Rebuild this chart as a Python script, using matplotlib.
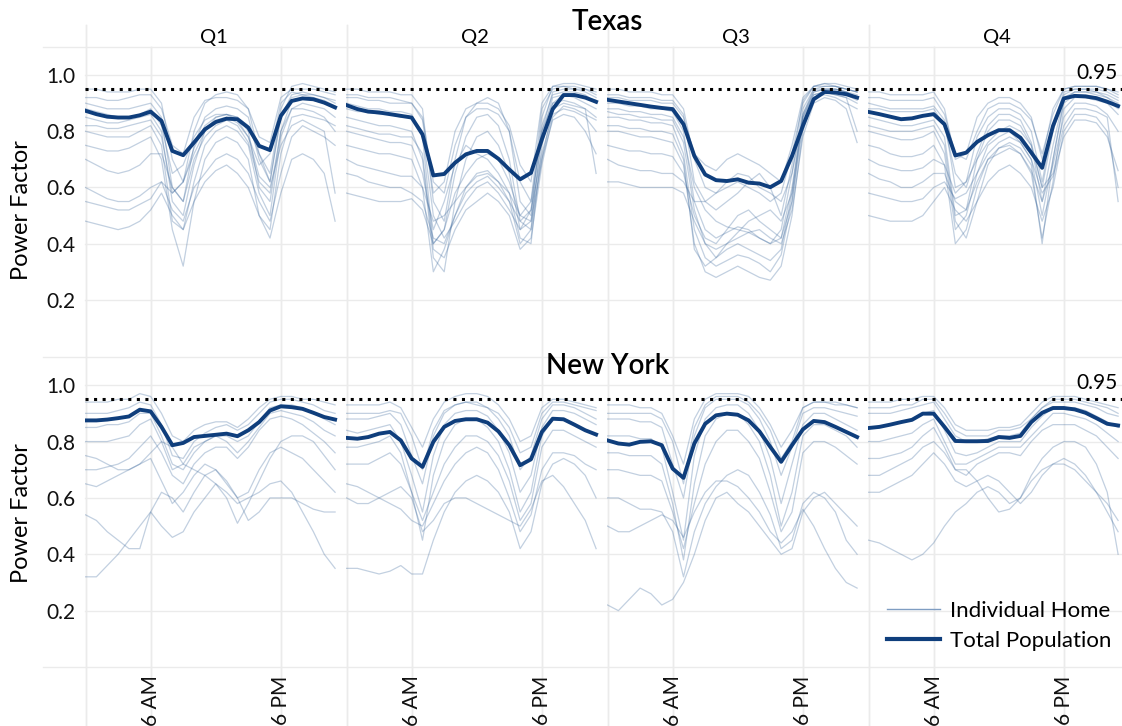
import numpy as np
import matplotlib
matplotlib.use("Agg")
import matplotlib.pyplot as plt
from matplotlib import transforms
from matplotlib.lines import Line2D

plt.rcParams['font.family'] = ['Lato', 'DejaVu Sans']

hours = np.arange(24)                     # hour of day, 0..23
quarters = ["Q1", "Q2", "Q3", "Q4"]
tick_hours = [6, 18]
tick_labels = ["6 AM", "6 PM"]
threshold = 0.95

# ---- Texas: total population power factor (hourly) ----
tx_q1_total = [0.873, 0.861, 0.852, 0.849, 0.849, 0.857, 0.870, 0.837, 0.730, 0.715, 0.760, 0.807,
               0.833, 0.845, 0.843, 0.813, 0.748, 0.733, 0.855, 0.908, 0.917, 0.914, 0.902, 0.885]
tx_q2_total = [0.893, 0.879, 0.870, 0.867, 0.861, 0.855, 0.849, 0.789, 0.643, 0.648, 0.688, 0.718,
               0.730, 0.730, 0.702, 0.664, 0.629, 0.652, 0.771, 0.879, 0.929, 0.929, 0.920, 0.905]
tx_q3_total = [0.912, 0.906, 0.900, 0.894, 0.888, 0.883, 0.879, 0.825, 0.712, 0.646, 0.626, 0.623,
               0.629, 0.617, 0.614, 0.601, 0.623, 0.712, 0.819, 0.914, 0.940, 0.938, 0.932, 0.920]
tx_q4_total = [0.869, 0.861, 0.852, 0.843, 0.846, 0.855, 0.861, 0.825, 0.714, 0.724, 0.762, 0.786,
               0.804, 0.804, 0.777, 0.724, 0.670, 0.819, 0.917, 0.926, 0.924, 0.918, 0.905, 0.890]

# ---- New York: total population power factor (hourly) ----
ny_q1_total = [0.875, 0.875, 0.878, 0.883, 0.889, 0.913, 0.907, 0.852, 0.787, 0.795, 0.816, 0.820,
               0.824, 0.828, 0.819, 0.840, 0.869, 0.910, 0.925, 0.922, 0.916, 0.902, 0.887, 0.878]
ny_q2_total = [0.813, 0.810, 0.816, 0.828, 0.834, 0.804, 0.740, 0.710, 0.799, 0.852, 0.873, 0.879,
               0.879, 0.867, 0.836, 0.787, 0.716, 0.737, 0.834, 0.881, 0.879, 0.860, 0.840, 0.825]
ny_q3_total = [0.804, 0.793, 0.789, 0.799, 0.801, 0.787, 0.704, 0.671, 0.793, 0.863, 0.893, 0.899,
               0.895, 0.875, 0.836, 0.781, 0.728, 0.787, 0.843, 0.873, 0.869, 0.852, 0.834, 0.816]
ny_q4_total = [0.848, 0.852, 0.860, 0.869, 0.877, 0.899, 0.899, 0.852, 0.802, 0.801, 0.801, 0.802,
               0.816, 0.813, 0.820, 0.869, 0.902, 0.919, 0.919, 0.914, 0.902, 0.883, 0.863, 0.857]

# ---- individual homes (percent, hourly) ----
tx_q1_homes = [
    [95, 95, 94, 94, 94, 95, 95, 90, 70, 62, 80, 90, 93, 94, 93, 88, 72, 65, 88, 96, 97, 96, 95, 94],
    [90, 89, 88, 88, 88, 89, 90, 85, 60, 55, 75, 85, 88, 89, 88, 85, 70, 62, 85, 93, 94, 93, 92, 90],
    [85, 84, 83, 83, 84, 85, 86, 80, 55, 50, 68, 80, 85, 86, 85, 80, 60, 55, 80, 91, 92, 91, 90, 88],
    [88, 87, 86, 85, 85, 86, 88, 82, 65, 68, 78, 84, 86, 86, 84, 78, 68, 72, 90, 94, 93, 93, 92, 91],
    [80, 79, 78, 78, 78, 80, 82, 75, 48, 45, 62, 75, 80, 82, 80, 75, 58, 50, 78, 88, 90, 89, 88, 85],
    [75, 74, 73, 73, 74, 76, 78, 70, 45, 32, 55, 70, 76, 78, 76, 70, 50, 45, 72, 85, 86, 85, 84, 82],
    [60, 58, 56, 55, 55, 57, 60, 62, 52, 48, 60, 65, 70, 72, 70, 65, 55, 48, 65, 78, 82, 80, 78, 75],
    [48, 47, 46, 45, 46, 48, 52, 58, 50, 45, 55, 62, 66, 68, 65, 60, 50, 42, 58, 70, 72, 70, 65, 48],
    [92, 92, 91, 91, 92, 93, 93, 88, 75, 72, 85, 91, 92, 92, 91, 88, 78, 76, 92, 95, 95, 95, 94, 93],
    [70, 68, 66, 65, 66, 68, 72, 72, 60, 55, 70, 78, 82, 84, 82, 76, 62, 58, 80, 88, 88, 87, 85, 80],
    [55, 54, 53, 52, 52, 54, 56, 62, 58, 62, 72, 80, 84, 85, 83, 78, 64, 60, 75, 82, 84, 82, 80, 58],
    [82, 82, 81, 81, 82, 83, 84, 78, 58, 62, 74, 82, 85, 86, 85, 82, 72, 62, 86, 92, 93, 92, 91, 89],
]
tx_q2_homes = [
    [95, 95, 94, 94, 94, 93, 93, 88, 55, 48, 70, 85, 90, 92, 90, 80, 55, 50, 85, 96, 97, 97, 96, 95],
    [90, 89, 88, 88, 87, 87, 86, 78, 40, 45, 65, 78, 85, 86, 82, 70, 48, 45, 80, 94, 95, 95, 94, 92],
    [85, 84, 83, 82, 82, 81, 80, 70, 35, 30, 55, 70, 78, 80, 75, 65, 45, 52, 82, 93, 94, 94, 93, 90],
    [80, 79, 78, 77, 76, 76, 75, 65, 45, 55, 68, 75, 72, 70, 65, 58, 42, 40, 75, 90, 93, 92, 90, 88],
    [88, 87, 87, 86, 86, 85, 85, 80, 50, 42, 48, 55, 60, 62, 58, 52, 45, 48, 78, 92, 93, 93, 92, 91],
    [75, 74, 73, 72, 72, 71, 70, 60, 30, 38, 50, 60, 65, 66, 62, 55, 40, 45, 70, 88, 90, 89, 88, 85],
    [65, 64, 62, 61, 60, 60, 58, 55, 42, 40, 50, 58, 62, 64, 60, 55, 48, 52, 72, 86, 88, 87, 85, 80],
    [92, 92, 91, 91, 90, 90, 90, 85, 62, 58, 75, 85, 88, 88, 86, 80, 62, 55, 88, 95, 96, 96, 95, 94],
    [70, 68, 67, 66, 65, 64, 64, 60, 48, 50, 55, 60, 64, 65, 62, 58, 50, 55, 80, 90, 91, 90, 88, 65],
    [82, 81, 80, 79, 79, 78, 78, 72, 38, 35, 45, 52, 55, 58, 55, 50, 38, 42, 68, 85, 89, 88, 86, 84],
    [93, 93, 92, 92, 92, 91, 90, 84, 58, 62, 80, 88, 90, 90, 88, 82, 68, 62, 90, 96, 96, 95, 95, 93],
    [58, 57, 56, 55, 55, 55, 56, 52, 40, 45, 58, 65, 70, 72, 70, 62, 50, 48, 70, 84, 86, 85, 80, 72],
]
tx_q3_homes = [
    [95, 95, 94, 94, 94, 93, 93, 88, 70, 60, 58, 60, 62, 60, 58, 55, 58, 72, 90, 96, 97, 97, 96, 95],
    [90, 90, 89, 89, 88, 88, 87, 80, 55, 45, 42, 44, 46, 45, 42, 40, 45, 65, 88, 95, 96, 96, 95, 94],
    [85, 85, 84, 84, 83, 83, 82, 72, 45, 35, 32, 34, 36, 35, 33, 30, 36, 55, 85, 94, 95, 95, 94, 92],
    [88, 88, 87, 87, 86, 86, 85, 78, 60, 52, 48, 46, 45, 44, 42, 40, 42, 60, 86, 94, 95, 95, 94, 93],
    [80, 80, 79, 78, 78, 77, 76, 68, 40, 30, 28, 30, 32, 30, 28, 27, 32, 50, 80, 92, 94, 93, 92, 90],
    [92, 92, 91, 91, 91, 90, 90, 85, 72, 68, 66, 70, 72, 70, 68, 65, 62, 75, 92, 96, 96, 96, 95, 94],
    [75, 74, 73, 73, 72, 72, 71, 65, 50, 42, 40, 45, 50, 52, 48, 45, 42, 55, 82, 92, 93, 92, 90, 88],
    [70, 68, 67, 66, 66, 65, 65, 62, 55, 55, 58, 62, 65, 64, 60, 58, 55, 65, 85, 93, 94, 93, 92, 80],
    [93, 93, 92, 92, 92, 91, 91, 86, 62, 55, 52, 55, 58, 62, 65, 60, 50, 68, 91, 96, 97, 96, 95, 94],
    [82, 82, 81, 81, 80, 80, 79, 70, 38, 32, 35, 40, 44, 48, 50, 52, 48, 58, 84, 93, 94, 94, 93, 91],
    [62, 62, 61, 60, 60, 60, 60, 58, 48, 40, 38, 40, 42, 44, 45, 42, 40, 52, 78, 90, 92, 91, 88, 76],
    [87, 86, 86, 85, 85, 84, 84, 76, 52, 40, 35, 38, 40, 38, 36, 34, 38, 58, 86, 95, 95, 95, 94, 92],
]
tx_q4_homes = [
    [94, 94, 93, 93, 93, 93, 94, 88, 70, 72, 85, 90, 92, 92, 90, 85, 70, 88, 95, 96, 96, 96, 95, 94],
    [90, 89, 88, 88, 88, 88, 89, 84, 60, 62, 78, 85, 88, 88, 86, 80, 62, 82, 94, 95, 95, 95, 94, 92],
    [85, 84, 83, 82, 82, 83, 84, 78, 50, 52, 70, 80, 84, 84, 82, 75, 55, 75, 92, 94, 94, 94, 92, 90],
    [80, 79, 78, 77, 77, 78, 80, 72, 45, 50, 65, 75, 78, 80, 76, 70, 50, 70, 90, 93, 93, 92, 91, 88],
    [75, 74, 72, 71, 71, 72, 75, 68, 40, 45, 60, 70, 74, 75, 72, 65, 42, 62, 88, 92, 92, 91, 90, 86],
    [88, 88, 87, 87, 87, 87, 88, 82, 65, 60, 72, 82, 86, 86, 84, 76, 60, 80, 93, 95, 95, 94, 93, 91],
    [65, 63, 62, 60, 60, 62, 65, 65, 55, 52, 62, 70, 72, 74, 72, 66, 55, 68, 85, 90, 90, 89, 86, 80],
    [50, 49, 48, 48, 48, 50, 55, 60, 52, 48, 55, 62, 66, 68, 65, 60, 48, 60, 80, 86, 86, 85, 80, 60],
    [92, 92, 91, 91, 91, 91, 92, 86, 72, 70, 80, 88, 90, 90, 88, 84, 72, 86, 95, 96, 96, 96, 95, 93],
    [70, 68, 67, 66, 66, 67, 70, 68, 58, 62, 70, 76, 80, 82, 80, 75, 60, 65, 82, 88, 88, 87, 85, 55],
    [82, 81, 80, 80, 80, 81, 82, 75, 48, 42, 55, 68, 74, 76, 74, 68, 40, 70, 91, 94, 94, 93, 92, 89],
    [58, 57, 56, 55, 55, 56, 60, 62, 56, 58, 65, 72, 76, 78, 76, 70, 58, 64, 78, 84, 84, 83, 78, 66],
]
ny_q1_homes = [
    [94, 94, 94, 95, 95, 97, 96, 90, 82, 80, 84, 86, 87, 87, 85, 88, 92, 95, 96, 96, 95, 95, 94, 93],
    [90, 90, 90, 91, 92, 94, 93, 86, 75, 74, 80, 83, 85, 86, 84, 86, 90, 94, 95, 95, 94, 93, 91, 90],
    [85, 85, 86, 86, 87, 90, 90, 82, 72, 70, 76, 80, 82, 82, 80, 82, 87, 92, 93, 93, 92, 90, 88, 86],
    [80, 80, 80, 81, 82, 86, 88, 80, 70, 72, 78, 80, 82, 80, 76, 80, 85, 90, 91, 90, 89, 87, 84, 82],
    [70, 70, 71, 72, 74, 78, 82, 76, 68, 65, 72, 76, 78, 78, 74, 78, 84, 88, 89, 88, 86, 83, 80, 76],
    [32, 32, 36, 40, 45, 50, 55, 50, 46, 48, 55, 60, 65, 62, 58, 60, 62, 65, 66, 62, 55, 48, 40, 35],
    [54, 52, 48, 45, 42, 42, 55, 62, 60, 55, 62, 68, 70, 66, 60, 52, 55, 60, 60, 60, 58, 56, 55, 55],
    [65, 64, 66, 68, 70, 72, 74, 66, 58, 62, 68, 72, 70, 65, 60, 62, 70, 76, 78, 76, 74, 70, 66, 62],
    [75, 74, 72, 70, 70, 72, 76, 80, 78, 72, 70, 68, 65, 60, 51, 58, 66, 74, 80, 82, 82, 80, 75, 70],
]
ny_q2_homes = [
    [93, 93, 93, 93, 94, 92, 85, 78, 88, 94, 96, 97, 97, 96, 93, 88, 80, 82, 92, 95, 95, 94, 93, 92],
    [88, 88, 88, 89, 90, 86, 75, 65, 82, 90, 93, 94, 94, 92, 88, 82, 70, 75, 88, 93, 93, 92, 90, 88],
    [84, 83, 84, 85, 86, 80, 68, 55, 75, 86, 90, 91, 91, 89, 84, 76, 62, 68, 85, 91, 91, 90, 88, 86],
    [78, 78, 79, 80, 82, 76, 62, 45, 68, 80, 86, 88, 88, 85, 80, 70, 55, 62, 82, 88, 88, 86, 84, 82],
    [72, 72, 72, 74, 76, 72, 62, 52, 62, 72, 78, 82, 82, 80, 75, 66, 52, 58, 78, 84, 84, 82, 80, 78],
    [35, 35, 34, 33, 34, 36, 33, 33, 45, 55, 62, 66, 68, 66, 62, 55, 42, 48, 65, 72, 74, 72, 68, 60],
    [65, 64, 62, 60, 58, 56, 52, 50, 58, 66, 72, 76, 78, 76, 70, 60, 48, 54, 70, 76, 76, 75, 72, 70],
    [90, 90, 90, 90, 91, 90, 82, 70, 84, 91, 93, 94, 93, 92, 90, 85, 76, 78, 90, 94, 94, 93, 92, 91],
    [60, 58, 58, 60, 62, 64, 60, 48, 52, 58, 60, 60, 58, 56, 54, 52, 50, 56, 66, 68, 64, 58, 52, 42],
]
ny_q3_homes = [
    [93, 93, 93, 92, 92, 90, 82, 72, 88, 95, 97, 97, 97, 96, 92, 86, 78, 84, 92, 94, 94, 93, 93, 92],
    [88, 88, 88, 87, 87, 85, 72, 60, 82, 92, 95, 95, 95, 93, 88, 80, 68, 78, 90, 92, 92, 91, 90, 89],
    [82, 82, 82, 81, 81, 78, 62, 45, 75, 88, 92, 93, 93, 90, 84, 74, 58, 72, 86, 90, 90, 88, 86, 84],
    [76, 76, 75, 75, 75, 72, 58, 38, 65, 82, 88, 90, 90, 86, 80, 68, 50, 62, 82, 86, 86, 84, 82, 78],
    [70, 70, 69, 68, 68, 66, 55, 42, 58, 72, 80, 84, 84, 80, 74, 62, 48, 55, 76, 80, 80, 78, 75, 72],
    [22, 20, 24, 28, 26, 22, 24, 30, 40, 52, 60, 62, 58, 55, 50, 45, 40, 42, 55, 60, 62, 58, 54, 50],
    [60, 60, 58, 56, 56, 55, 48, 32, 48, 58, 64, 68, 70, 68, 62, 54, 42, 45, 58, 62, 60, 55, 45, 40],
    [90, 90, 90, 90, 90, 88, 80, 65, 85, 93, 96, 96, 96, 94, 90, 84, 74, 80, 92, 94, 94, 94, 93, 92],
    [50, 48, 48, 50, 52, 54, 52, 46, 55, 62, 66, 66, 64, 60, 55, 48, 44, 48, 56, 50, 42, 35, 30, 28],
]
ny_q4_homes = [
    [94, 94, 94, 95, 95, 96, 96, 92, 86, 84, 84, 84, 85, 85, 86, 90, 94, 96, 96, 96, 95, 94, 93, 92],
    [90, 90, 90, 91, 92, 93, 94, 88, 82, 80, 80, 81, 82, 82, 83, 88, 92, 94, 94, 94, 93, 92, 90, 89],
    [85, 85, 86, 87, 88, 90, 91, 84, 76, 75, 76, 78, 80, 80, 80, 85, 89, 92, 92, 92, 91, 89, 87, 85],
    [80, 80, 81, 82, 83, 86, 88, 80, 72, 72, 74, 76, 78, 78, 78, 82, 86, 90, 90, 89, 88, 86, 83, 80],
    [74, 74, 75, 76, 78, 82, 85, 78, 70, 68, 72, 74, 76, 76, 75, 80, 84, 86, 86, 86, 84, 82, 78, 74],
    [45, 44, 42, 40, 38, 40, 44, 50, 55, 58, 62, 64, 62, 58, 60, 66, 70, 72, 72, 70, 66, 62, 58, 52],
    [62, 62, 64, 66, 68, 72, 76, 72, 66, 64, 66, 68, 66, 62, 58, 62, 68, 72, 74, 72, 68, 62, 55, 48],
    [92, 92, 92, 93, 93, 95, 95, 90, 84, 82, 82, 82, 84, 84, 85, 88, 92, 95, 95, 95, 94, 93, 92, 90],
    [68, 68, 70, 72, 74, 78, 80, 76, 70, 70, 66, 60, 55, 56, 60, 68, 74, 78, 80, 80, 78, 72, 62, 40],
]

rows = [
    ("Texas", [tx_q1_total, tx_q2_total, tx_q3_total, tx_q4_total],
     [tx_q1_homes, tx_q2_homes, tx_q3_homes, tx_q4_homes]),
    ("New York", [ny_q1_total, ny_q2_total, ny_q3_total, ny_q4_total],
     [ny_q1_homes, ny_q2_homes, ny_q3_homes, ny_q4_homes]),
]

NAVY = "#0f3e7c"
HOME = "#36649a"
GRID = "#ebebeb"
W, H = 1122, 726

fig = plt.figure(figsize=(W / 100, H / 100), dpi=100)

# panel layout in pixels
col_left = [85, 346, 607, 868]
col_width = [261, 261, 261, 254]
px_per_hour = 10.85
row_top = [47, 357]
row_bot = [335, 667]
row_ylim = [(0.075, 1.1), (0.0, 1.1)]

for r, (state, totals, homes) in enumerate(rows):
    row_axes = []
    for c in range(4):
        ax = fig.add_axes([col_left[c] / W, 1 - row_bot[r] / H,
                           col_width[c] / W, (row_bot[r] - row_top[r]) / H])
        ax.set_facecolor("none")
        ax.set_xlim(-0.05, -0.05 + col_width[c] / px_per_hour)
        ax.set_ylim(*row_ylim[r])
        for s in ax.spines.values():
            s.set_visible(False)
        ax.tick_params(length=0, labelsize=15, colors="#111111")

        for home in homes[c]:
            ax.plot(hours, np.array(home) / 100, color=HOME, alpha=0.3, lw=0.9)
        ax.plot(hours, totals[c], color=NAVY, lw=2.8, solid_joinstyle="round")

        ax.set_yticks([0.2, 0.4, 0.6, 0.8, 1.0])
        if c == 0:
            ax.set_yticklabels(["0.2", "0.4", "0.6", "0.8", "1.0"])
            ax.tick_params(axis="y", pad=7)
        else:
            ax.set_yticklabels([])
        ax.set_xticks(tick_hours)
        if r == 1:
            ax.set_xticklabels(tick_labels, rotation=90, va="top", ha="center")
            ax.tick_params(axis="x", pad=6)
        else:
            ax.set_xticklabels([])
            fig.text((col_left[c] + 11.9 * px_per_hour) / W, 1 - 37 / H, quarters[c],
                     ha="center", va="center", fontsize=14.5)

        # gridlines as figure-level artists
        tv = transforms.blended_transform_factory(ax.transData, fig.transFigure)
        for h in tick_hours:
            fig.add_artist(Line2D([h, h], [1 - row_top[0] / H, 0], transform=tv,
                                  color=GRID, lw=1, zorder=-1))
        fig.add_artist(Line2D([0, 0], [1 - 25 / H, 0], transform=tv,
                              color=GRID, lw=1, zorder=-1))
        row_axes.append(ax)

    th = transforms.blended_transform_factory(fig.transFigure, row_axes[0].transData)
    for yv in [0.2, 0.4, 0.6, 0.8, 1.0]:
        fig.add_artist(Line2D([85 / W, 1], [yv, yv], transform=th, color=GRID, lw=1, zorder=-1))
    edge_lines = [1.1] if r == 0 else [1.1, 0.0]
    for yv in edge_lines:
        fig.add_artist(Line2D([43 / W, 1], [yv, yv], transform=th, color=GRID, lw=1, zorder=-1))

    # 0.95 threshold
    fig.add_artist(Line2D([85 / W, 1], [threshold, threshold], transform=th, color="black",
                          lw=2.2, linestyle=(0, (1, 1.8)), dash_capstyle="butt", zorder=5))
    fig.text(1118 / W, 0.985, "0.95", transform=th, ha="right", va="baseline", fontsize=15)

    fig.text(22 / W, 1 - [210, 513][r] / H, "Power Factor", rotation=90,
             ha="center", va="center", fontsize=17)

fig.text(607 / W, 1 - 22 / H, "Texas", ha="center", va="center", fontsize=20, fontweight="semibold")
fig.text(608 / W, 1 - 366 / H, "New York", ha="center", va="center", fontsize=20, fontweight="semibold")

handles = [Line2D([], [], color="#7f9dc2", lw=1.0), Line2D([], [], color=NAVY, lw=3.0)]
fig.legend(handles, ["Individual Home", "Total Population"], loc="center left",
           bbox_to_anchor=(887 / W, 1 - 626 / H), frameon=False, fontsize=16,
           handlelength=2.4, handletextpad=0.45, labelspacing=0.45, borderpad=0, borderaxespad=0)

fig.savefig("out.png", dpi=100)
